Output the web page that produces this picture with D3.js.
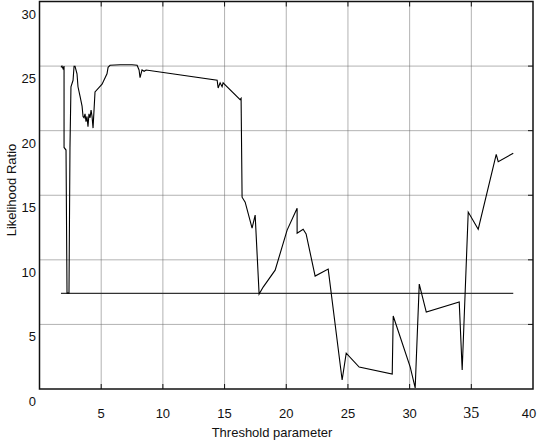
<!DOCTYPE html>
<html>
<head>
<meta charset="utf-8">
<script src="https://cdn.jsdelivr.net/npm/d3@7"></script>
<style>
  body { margin: 0; background: #fff; }
  text { font-family: "Liberation Sans", Arial, sans-serif; font-size: 13px; fill: #111; }
</style>
</head>
<body>
<svg id="chart" width="544" height="444"></svg>
<script>
// likelihood ratio vs threshold parameter
const thresh = [1.74, 1.82, 1.91, 1.99, 1.99, 2.15, 2.23, 2.39, 2.47, 2.55, 2.72, 2.80, 2.88,
  3.04, 3.12, 3.28, 3.45, 3.53, 3.61, 3.69, 3.77, 3.85, 3.93, 4.01, 4.10, 4.18, 4.26, 4.34,
  4.42, 4.50, 5.07, 5.47, 5.56, 5.72, 6.53, 7.50, 7.91, 8.07, 8.15, 8.31, 8.48, 8.64,
  14.40, 14.48, 14.64, 14.80, 14.88, 16.26, 16.34, 16.42, 16.67, 17.23, 17.48, 17.80, 18.13,
  19.10, 20.07, 20.88, 20.88, 21.37, 21.61, 22.34, 23.40, 24.53, 24.86, 25.91, 28.59, 28.67,
  30.05, 30.45, 30.78, 31.35, 34.02, 34.26, 34.75, 35.56, 37.02, 37.18, 38.40];
const ratio = [24.9, 25.0, 24.8, 25.0, 18.7, 18.5, 7.42, 7.42, 18.7, 23.4, 23.9, 24.98, 24.98,
  24.4, 23.4, 22.7, 21.9, 21.1, 21.0, 21.3, 20.7, 21.1, 20.3, 21.3, 21.0, 21.6, 21.1, 20.2,
  21.6, 23.0, 23.6, 24.4, 24.9, 25.06, 25.1, 25.1, 25.06, 24.7, 24.1, 24.7, 24.6, 24.7,
  23.9, 23.3, 23.7, 23.4, 23.7, 22.4, 22.5, 14.85, 14.46, 12.45, 13.46, 7.35, 7.89,
  9.2, 12.3, 14.0, 12.06, 12.37, 12.0, 8.74, 9.28, 0.7, 2.78, 1.70, 1.16, 5.65,
  1.70, 0.08, 8.12, 5.96, 6.73, 1.47, 13.7, 12.37, 18.17, 17.6, 18.25];

const baseline = 7.4;
const baseRange = [1.74, 38.4];

const xTicks = [5, 10, 15, 20, 25, 30, 35, 40];
const yTicks = [0, 5, 10, 15, 20, 25, 30];

const svg = d3.select("#chart");
const pl = 39.5, pr = 533, pt = 1.5, pb = 389;

const x = d3.scaleLinear().domain([0, 40]).range([pl, pr]);
const y = d3.scaleLinear().domain([0, 30]).range([pb, pt]);

// grid
const grid = svg.append("g").attr("stroke", "#666").attr("stroke-dasharray", "1,1");
grid.selectAll("line.vx")
  .data(xTicks.filter(d => d > 0 && d < 40))
  .join("line")
  .attr("class", "vx")
  .attr("x1", d => x(d)).attr("x2", d => x(d))
  .attr("y1", pt).attr("y2", pb);
grid.selectAll("line.hy")
  .data(yTicks.filter(d => d > 0 && d < 30))
  .join("line")
  .attr("class", "hy")
  .attr("x1", pl).attr("x2", pr)
  .attr("y1", d => y(d)).attr("y2", d => y(d));

// ticks, inward
const ticks = svg.append("g").attr("stroke", "#111");
ticks.selectAll("line.b")
  .data(xTicks.filter(d => d < 40))
  .join("line")
  .attr("class", "b")
  .attr("x1", d => x(d)).attr("x2", d => x(d))
  .attr("y1", pb).attr("y2", pb - 5);
ticks.selectAll("line.t")
  .data(xTicks.filter(d => d < 40))
  .join("line")
  .attr("class", "t")
  .attr("x1", d => x(d)).attr("x2", d => x(d))
  .attr("y1", pt).attr("y2", pt + 5);
ticks.selectAll("line.r")
  .data(yTicks.filter(d => d > 0 && d < 30))
  .join("line")
  .attr("class", "r")
  .attr("x1", pr).attr("x2", pr - 5)
  .attr("y1", d => y(d)).attr("y2", d => y(d));

// frame
svg.append("rect")
  .attr("x", pl).attr("y", pt)
  .attr("width", pr - pl).attr("height", pb - pt)
  .attr("fill", "none").attr("stroke", "#111").attr("stroke-width", 1.5);

// horizontal reference line
svg.append("line")
  .attr("x1", x(baseRange[0])).attr("x2", x(baseRange[1]))
  .attr("y1", y(baseline)).attr("y2", y(baseline))
  .attr("stroke", "#333").attr("stroke-width", 1.2);

// data line
const pts = thresh.map((t, i) => [t, ratio[i]]);
svg.append("path")
  .datum(pts)
  .attr("fill", "none")
  .attr("stroke", "#000")
  .attr("stroke-width", 1.1)
  .attr("d", d3.line().x(d => x(d[0])).y(d => y(d[1])));

// tick labels
svg.append("g").selectAll("text")
  .data(xTicks)
  .join("text")
  .attr("x", d => x(d) - (d === 40 ? 4 : 0))
  .attr("y", 418)
  .attr("text-anchor", "middle")
  .style("font-family", d => d === 35 ? "'Liberation Serif', serif" : null)
  .style("font-size", d => d === 35 ? "16px" : null)
  .text(d => d);

svg.append("g").selectAll("text")
  .data(yTicks)
  .join("text")
  .attr("x", 36)
  .attr("y", d => y(d) + 17)
  .attr("text-anchor", "end")
  .text(d => d);

// axis titles
svg.append("text")
  .attr("x", 272).attr("y", 437)
  .attr("text-anchor", "middle")
  .text("Threshold parameter");

svg.append("text")
  .attr("transform", "translate(16,190) rotate(-90)")
  .attr("text-anchor", "middle")
  .text("Likelihood Ratio");
</script>
</body>
</html>
